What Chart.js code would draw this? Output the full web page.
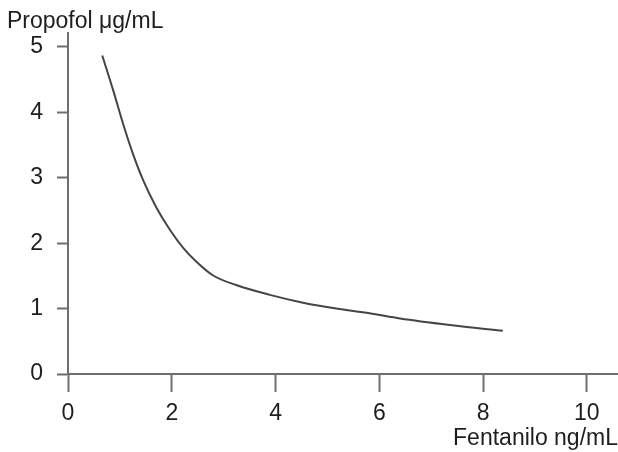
<!DOCTYPE html>
<html>
<head>
<meta charset="utf-8">
<script src="https://cdn.jsdelivr.net/npm/chart.js@4"></script>
<style>
  html, body { margin: 0; padding: 0; background: #fff; }
  #wrap { width: 618px; height: 452px; }
</style>
</head>
<body>
<div id="wrap"><canvas id="chart" width="618" height="452"></canvas></div>
<script>
// Fentanyl / propofol concentration curve
const fentanilo = [0.66, 0.87, 1.06, 1.25, 1.45, 1.70, 1.96, 2.22, 2.47, 2.79, 3.24, 3.89, 4.53, 5.17, 5.81, 6.40, 7.36, 8.38];
const propofol = [4.87, 4.34, 3.83, 3.37, 2.96, 2.55, 2.21, 1.93, 1.72, 1.51, 1.36, 1.21, 1.09, 1.00, 0.93, 0.85, 0.75, 0.66];
const xTicks = [0, 2, 4, 6, 8, 10];
const yTicks = [0, 1, 2, 3, 4, 5];

const FONT = 'Liberation Sans, Arial, Helvetica, sans-serif';
const AXIS = '#6e6e6e';
const TEXT = '#1e1e1e';

const points = fentanilo.map((x, i) => ({ x, y: propofol[i] }));

const ctx = document.getElementById('chart').getContext('2d');
new Chart(ctx, {
  type: 'scatter',
  data: {
    datasets: [{
      data: points,
      showLine: true,
      borderColor: '#454545',
      borderWidth: 2,
      pointRadius: 0,
      cubicInterpolationMode: 'monotone',
      fill: false,
    }],
  },
  options: {
    responsive: false,
    animation: false,
    layout: { padding: { left: 7, right: 0, top: 0, bottom: 0 } },
    scales: {
      x: {
        type: 'linear',
        min: 0,
        max: 10.6,
        afterBuildTicks: (axis) => { axis.ticks = xTicks.map((v) => ({ value: v })); },
        afterFit: (axis) => { axis.height = 78; },
        ticks: {
          color: TEXT,
          font: { family: FONT, size: 23 },
          padding: 8,
          maxRotation: 0,
        },
        grid: {
          drawOnChartArea: false,
          drawTicks: true,
          tickLength: 18,
          tickWidth: 2,
          tickColor: AXIS,
        },
        border: { display: true, color: AXIS, width: 2 },
        title: {
          display: true,
          text: 'Fentanilo ng/mL',
          align: 'end',
          color: TEXT,
          font: { family: FONT, size: 23 },
          padding: { top: 0, bottom: 0 },
        },
      },
      y: {
        type: 'linear',
        min: 0,
        max: 5.22,
        afterBuildTicks: (axis) => { axis.ticks = yTicks.map((v) => ({ value: v })); },
        afterFit: (axis) => { axis.width = 61; },
        ticks: {
          color: TEXT,
          font: { family: FONT, size: 23 },
          padding: 14,
        },
        grid: {
          drawOnChartArea: false,
          drawTicks: true,
          tickLength: 11,
          tickWidth: 2,
          tickColor: AXIS,
        },
        border: { display: true, color: AXIS, width: 2 },
      },
    },
    plugins: {
      legend: { display: false },
      tooltip: { enabled: false },
      title: {
        display: true,
        text: 'Propofol μg/mL',
        align: 'start',
        color: TEXT,
        font: { family: FONT, size: 23, weight: 'normal' },
        padding: { top: 8, bottom: -3 },
      },
    },
  },
});
</script>
</body>
</html>
